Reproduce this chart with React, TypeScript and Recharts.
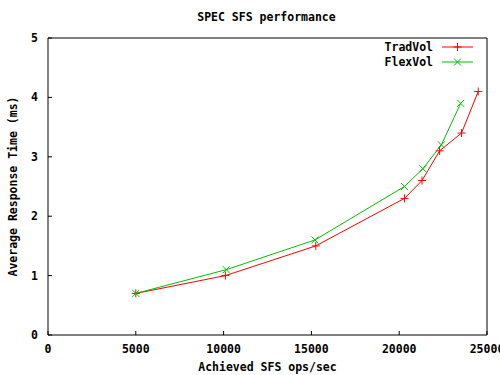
import React from 'react'
import { LineChart, Line, XAxis, YAxis, Legend } from 'recharts'

// ---- data ----
const tradOps = [5000, 10100, 15250, 20300, 21300, 22300, 23550, 24500]
const tradResp = [0.7, 1.0, 1.5, 2.3, 2.6, 3.1, 3.4, 4.1]
const flexOps = [5000, 10150, 15200, 20300, 21350, 22400, 23500]
const flexResp = [0.7, 1.1, 1.6, 2.5, 2.8, 3.2, 3.9]
const xTicks = [0, 5000, 10000, 15000, 20000, 25000]
const yTicks = [0, 1, 2, 3, 4, 5]

const tradData = tradOps.map((x, i) => ({ x, y: tradResp[i] }))
const flexData = flexOps.map((x, i) => ({ x, y: flexResp[i] }))

const RED = '#ff0000'
const GREEN = '#00c000'
const FONT = '"DejaVu Sans Mono", "Liberation Mono", monospace'
const tickFont = { fontFamily: FONT, fontSize: 11.5, fontWeight: 'bold', fill: '#000' }

// + marker
const Plus = (props: any) => {
  const { cx, cy } = props
  if (cx == null || cy == null) return null
  return (
    <g stroke={RED} strokeWidth={1}>
      <line x1={cx - 4} y1={cy} x2={cx + 4} y2={cy} />
      <line x1={cx} y1={cy - 4} x2={cx} y2={cy + 4} />
    </g>
  )
}

// x marker
const Cross = (props: any) => {
  const { cx, cy } = props
  if (cx == null || cy == null) return null
  return (
    <g stroke={GREEN} strokeWidth={1}>
      <line x1={cx - 3.5} y1={cy - 3.5} x2={cx + 3.5} y2={cy + 3.5} />
      <line x1={cx - 3.5} y1={cy + 3.5} x2={cx + 3.5} y2={cy - 3.5} />
    </g>
  )
}

const LegendBox = () => (
  <svg width={140} height={40}>
    <g fontFamily={FONT} fontSize={11.5} fontWeight="bold">
      <text x={93} y={13} textAnchor="end">TradVol</text>
      <text x={93} y={28} textAnchor="end">FlexVol</text>
    </g>
    <line x1={102} y1={9} x2={133} y2={9} stroke={RED} />
    <Plus cx={117.5} cy={9} />
    <line x1={102} y1={24} x2={133} y2={24} stroke={GREEN} />
    <Cross cx={117.5} cy={24} />
  </svg>
)

export default function App() {
  return (
    <div style={{ position: 'absolute', left: 0, top: 0, width: 500, height: 375, background: '#fff' }}>
      <div
        style={{
          position: 'absolute',
          left: 0,
          width: 533,
          top: 10,
          textAlign: 'center',
          fontFamily: FONT,
          fontSize: 11.5,
          fontWeight: 'bold',
        }}
      >
        SPEC SFS performance
      </div>
      <LineChart width={500} height={375} margin={{ top: 37, right: 12, bottom: 0, left: 0 }}>
        <XAxis
          type="number"
          dataKey="x"
          domain={[0, 25000]}
          ticks={xTicks}
          interval={0}
          tickSize={-4}
          tickMargin={14}
          height={40}
          stroke="#000"
          tick={tickFont}
          tickLine={{ stroke: '#000' }}
          axisLine={{ stroke: '#000' }}
          label={{
            value: 'Achieved SFS ops/sec',
            position: 'insideBottom',
            offset: 4,
            style: { fontFamily: FONT, fontSize: 11.5, fontWeight: 'bold', fill: '#000' },
          }}
        />
        <XAxis
          xAxisId="top"
          orientation="top"
          type="number"
          domain={[0, 25000]}
          ticks={xTicks}
          interval={0}
          tickSize={-4}
          height={1}
          tick={false}
          tickLine={{ stroke: '#000' }}
          axisLine={{ stroke: '#000' }}
        />
        <YAxis
          type="number"
          domain={[0, 5]}
          ticks={yTicks}
          interval={0}
          tickSize={-4}
          tickMargin={14}
          width={48}
          tick={tickFont}
          tickLine={{ stroke: '#000' }}
          axisLine={{ stroke: '#000' }}
          label={{
            value: 'Average Response Time (ms)',
            angle: -90,
            position: 'insideLeft',
            offset: 13,
            style: { textAnchor: 'middle', fontFamily: FONT, fontSize: 11.5, fontWeight: 'bold', fill: '#000' },
          }}
        />
        <YAxis
          yAxisId="right"
          orientation="right"
          type="number"
          domain={[0, 5]}
          ticks={yTicks}
          interval={0}
          tickSize={-4}
          width={1}
          tick={false}
          tickLine={{ stroke: '#000' }}
          axisLine={{ stroke: '#000' }}
        />
        <Legend
          layout="vertical"
          align="center"
          verticalAlign="middle"
          content={<LegendBox />}
          wrapperStyle={{ position: 'absolute', left: 340, top: 38, width: 140, height: 40 }}
        />
        <Line
          name="TradVol"
          data={tradData}
          dataKey="y"
          type="linear"
          stroke={RED}
          strokeWidth={1}
          dot={<Plus />}
          activeDot={false}
          isAnimationActive={false}
        />
        <Line
          name="FlexVol"
          data={flexData}
          dataKey="y"
          type="linear"
          stroke={GREEN}
          strokeWidth={1}
          dot={<Cross />}
          activeDot={false}
          isAnimationActive={false}
        />
      </LineChart>
    </div>
  )
}
